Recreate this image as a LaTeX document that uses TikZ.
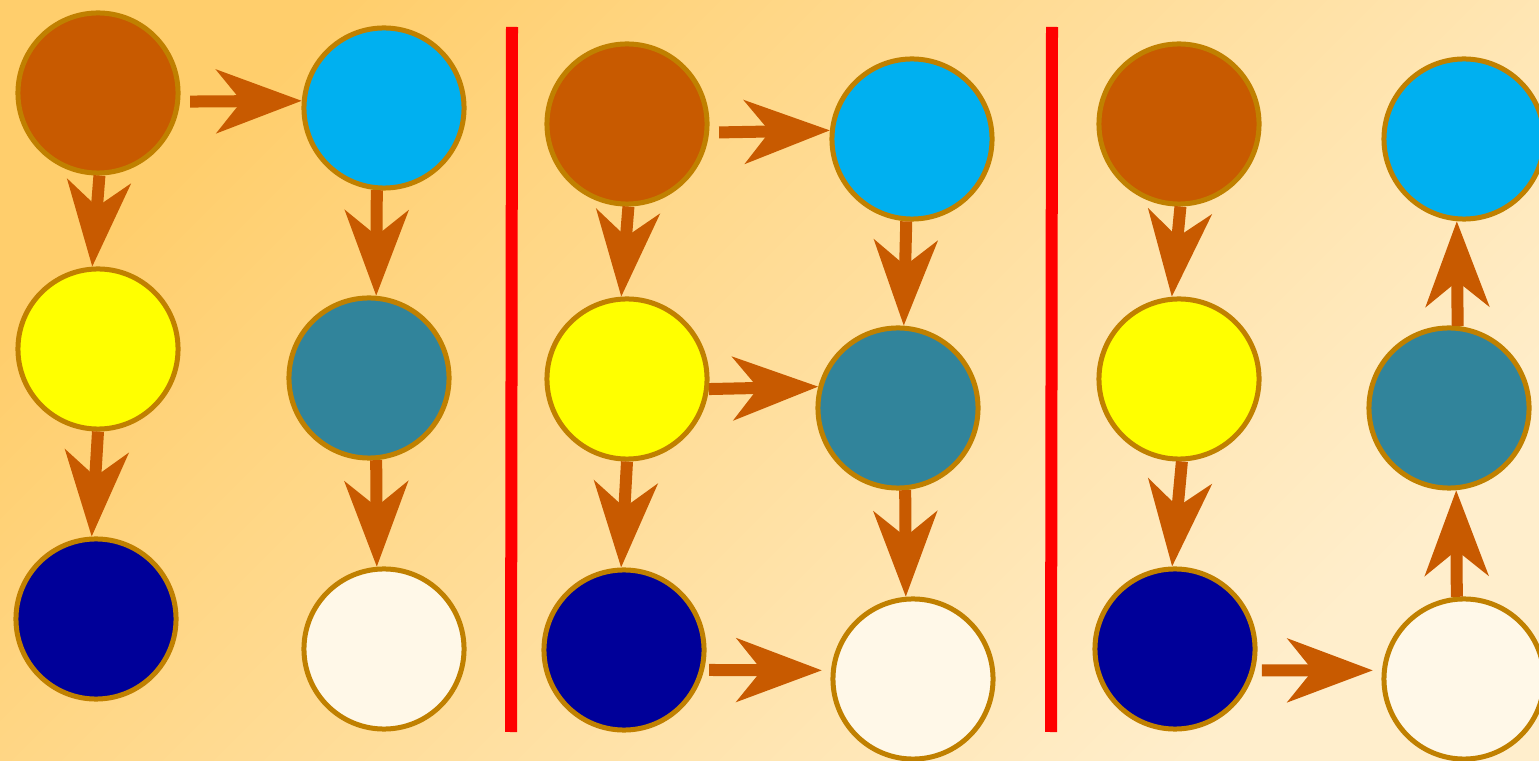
\documentclass[tikz,border=0pt]{standalone}
\usetikzlibrary{arrows.meta}
\definecolor{bgA}{RGB}{255,206,108}
\definecolor{bgB}{RGB}{255,238,204}
\definecolor{rim}{RGB}{192,128,0}
\definecolor{corange}{RGB}{200,90,0}
\definecolor{ccyan}{RGB}{0,176,240}
\definecolor{cyellow}{RGB}{255,255,0}
\definecolor{cteal}{RGB}{49,132,155}
\definecolor{cnavy}{RGB}{0,0,153}
\definecolor{ccream}{RGB}{255,248,232}
\definecolor{cred}{RGB}{255,0,0}
\begin{document}
\begin{tikzpicture}[x=0.01cm,y=-0.01cm,
  ball/.style={circle, draw=rim, line width=0.05cm, minimum size=1.6cm, inner sep=0pt},
  link/.style={draw=corange, line width=0.12cm,
    -{Stealth[length=0.85cm,width=0.63cm,inset=0.25cm]}},
  divider/.style={draw=cred, line width=0.12cm}]
\useasboundingbox (0,0) rectangle (1539,761);
\shade[left color=bgA, right color=bgB, shading angle=45] (0,0) rectangle (1539,761);
\clip (0,0) rectangle (1539,761);
% panel 1
\node[ball, fill=corange] (o1) at (98,93) {};
\node[ball, fill=ccyan]   (c1) at (384,108) {};
\node[ball, fill=cyellow] (y1) at (98,349) {};
\node[ball, fill=cteal]   (t1) at (369,378) {};
\node[ball, fill=cnavy]   (n1) at (96,619) {};
\node[ball, fill=ccream]  (w1) at (384,649) {};
\draw[link, shorten <=0.1cm] (o1.-6) -- (c1.175);
\draw[link] (o1.-89) -- (y1.94);
\draw[link] (y1.-90) -- (n1.93);
\draw[link] (c1.-95) -- (t1.85);
\draw[link] (t1.-85) -- (w1.95);
% divider 1
\coordinate (d1a) at (512,27);
\coordinate (d1b) at (511,732);
\draw[divider] (d1a) -- (d1b);
% panel 2
\node[ball, fill=corange] (o2) at (627,124) {};
\node[ball, fill=ccyan]   (c2) at (912,139) {};
\node[ball, fill=cyellow] (y2) at (627,379) {};
\node[ball, fill=cteal]   (t2) at (898,408) {};
\node[ball, fill=cnavy]   (n2) at (624,650) {};
\node[ball, fill=ccream]  (w2) at (913,679) {};
\draw[link, shorten <=0.1cm] (o2.-6) -- (c2.174);
\draw[link] (o2.-89) -- (y2.94);
\draw[link] (y2.-7) -- (t2.165);
\draw[link] (y2.-90) -- (n2.92);
\draw[link] (c2.-94) -- (t2.86);
\draw[link] (t2.-85) -- (w2.95);
\draw[link, shorten <=0.05cm, shorten >=0.09cm] (n2.-14) -- (w2.174);
% divider 2
\coordinate (d2a) at (1052,27);
\coordinate (d2b) at (1051,732);
\draw[divider] (d2a) -- (d2b);
% panel 3
\node[ball, fill=corange] (o3) at (1179,124) {};
\node[ball, fill=ccyan]   (c3) at (1464,139) {};
\node[ball, fill=cyellow] (y3) at (1179,379) {};
\node[ball, fill=cteal]   (t3) at (1449,408) {};
\node[ball, fill=cnavy]   (n3) at (1175,649) {};
\node[ball, fill=ccream]  (w3) at (1464,679) {};
\draw[link] (o3.-89) -- (y3.95);
\draw[link] (y3.-88) -- (n3.92);
\draw[link, shorten <=0.07cm, shorten >=0.09cm] (n3.-15) -- (w3.174);
\draw[link] (w3.95) -- (t3.-85);
\draw[link] (t3.84) -- (c3.-95);
\end{tikzpicture}
\end{document}
